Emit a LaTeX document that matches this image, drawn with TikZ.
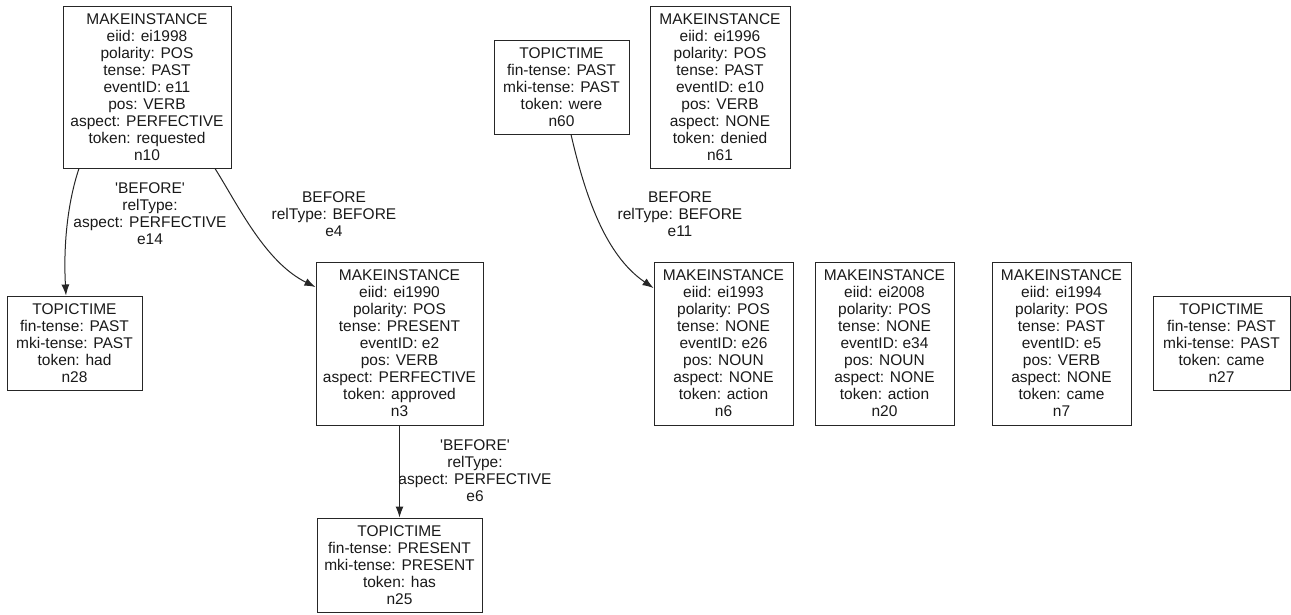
\documentclass[tikz,border=0pt]{standalone}
\usepackage{fontspec}
\setmainfont{Liberation Sans}
\usetikzlibrary{arrows.meta}
\begin{document}
\begin{tikzpicture}[x=1pt,y=-1pt,
  box/.style={draw=black!85, line width=1pt, align=center, inner sep=0pt,
    font=\fontsize{15.5}{17}\selectfont, text=black!90},
  lbl/.style={align=center, inner sep=0pt, font=\fontsize{15.5}{17}\selectfont, text=black!90},
  edge/.style={line width=1pt, draw=black!85, -{Latex[length=11pt,width=8pt]}}]
\useasboundingbox (0,0) rectangle (1291,614);
\node[box, minimum width=168, minimum height=162] (n10) at (147,87)
  {MAKEINSTANCE\\eiid: ei1998\\polarity: POS\\tense: PAST\\eventID: e11\\pos: VERB\\aspect: PERFECTIVE\\token: requested\\n10};
\node[box, minimum width=135, minimum height=94] (n28) at (74.5,343)
  {TOPICTIME\\fin-tense: PAST\\mki-tense: PAST\\token: had\\n28};
\node[box, minimum width=167, minimum height=163] (n3) at (399.5,343.5)
  {MAKEINSTANCE\\eiid: ei1990\\polarity: POS\\tense: PRESENT\\eventID: e2\\pos: VERB\\aspect: PERFECTIVE\\token: approved\\n3};
\node[box, minimum width=165, minimum height=94] (n25) at (399.5,565)
  {TOPICTIME\\fin-tense: PRESENT\\mki-tense: PRESENT\\token: has\\n25};
\node[box, minimum width=135, minimum height=94] (n60) at (561.5,87)
  {TOPICTIME\\fin-tense: PAST\\mki-tense: PAST\\token: were\\n60};
\node[box, minimum width=140, minimum height=162] (n61) at (720,87)
  {MAKEINSTANCE\\eiid: ei1996\\polarity: POS\\tense: PAST\\eventID: e10\\pos: VERB\\aspect: NONE\\token: denied\\n61};
\node[box, minimum width=139, minimum height=163] (n6) at (723.5,343.5)
  {MAKEINSTANCE\\eiid: ei1993\\polarity: POS\\tense: NONE\\eventID: e26\\pos: NOUN\\aspect: NONE\\token: action\\n6};
\node[box, minimum width=139, minimum height=163] (n20) at (884.5,343.5)
  {MAKEINSTANCE\\eiid: ei2008\\polarity: POS\\tense: NONE\\eventID: e34\\pos: NOUN\\aspect: NONE\\token: action\\n20};
\node[box, minimum width=139, minimum height=163] (n7) at (1061.5,343.5)
  {MAKEINSTANCE\\eiid: ei1994\\polarity: POS\\tense: PAST\\eventID: e5\\pos: VERB\\aspect: NONE\\token: came\\n7};
\node[box, minimum width=137, minimum height=94] (n27) at (1221.5,343)
  {TOPICTIME\\fin-tense: PAST\\mki-tense: PAST\\token: came\\n27};
% edges
\draw[edge] ([xshift=-68pt]n10.south) .. controls (69,198) and (63,240) .. ([xshift=-8.5pt]n28.north);
\draw[edge] ([xshift=68pt]n10.south) .. controls (238,205) and (265,262) .. ([yshift=56.5pt]n3.west);
\draw[edge] (n3.south) -- (n25.north);
\draw[edge] ([xshift=9.5pt]n60.south) .. controls (585,195) and (605,255) .. ([yshift=55.5pt]n6.west);
% labels
\node[lbl] (l14) at (150,213.5) {\textquotesingle BEFORE\textquotesingle\\relType:\\aspect: PERFECTIVE\\e14};
\node[lbl] (l4) at (334,214) {BEFORE\\relType: BEFORE\\e4};
\node[lbl] (l6) at (475,470.5) {\textquotesingle BEFORE\textquotesingle\\relType:\\aspect: PERFECTIVE\\e6};
\node[lbl] (l11) at (680,214) {BEFORE\\relType: BEFORE\\e11};
\end{tikzpicture}
\end{document}
